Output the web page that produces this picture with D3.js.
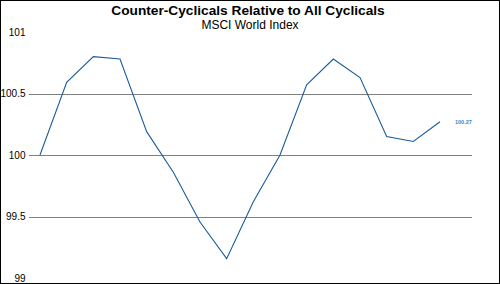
<!DOCTYPE html>
<meta charset="utf-8">
<style>
body { margin: 0; background: #fff; }
svg { display: block; font-family: "Liberation Sans", Arial, sans-serif; }
</style>
<body>
<script src="https://d3js.org/d3.v7.min.js"></script>
<script>

// chart values
var periods = d3.range(1, 17);
var values = [100.00, 100.59, 100.80, 100.78, 100.19, 99.86, 99.455, 99.157,
              99.62, 100.00, 100.57, 100.78, 100.63, 100.15, 100.11, 100.27];
var yTicks = [99, 99.5, 100, 100.5, 101];
var gridTicks = [99.5, 100, 100.5];
var lastLabel = "100.27";

var W = 500, H = 284;

var svg = d3.select("body").append("svg")
    .attr("width", W)
    .attr("height", H);

svg.append("rect")
    .attr("x", 0.5).attr("y", 0.5)
    .attr("width", W - 1).attr("height", H - 1)
    .attr("fill", "#fff")
    .attr("stroke", "#000");

var x = d3.scaleLinear()
    .domain([1, 16])
    .range([40, 440]);

var y = d3.scaleLinear()
    .domain([99, 101])
    .range([278, 32]);

// gridlines
svg.selectAll(".grid")
    .data(gridTicks)
  .enter().append("line")
    .attr("class", "grid")
    .attr("x1", 29).attr("x2", 472)
    .attr("y1", function(d) { return Math.round(y(d)) + 0.5; })
    .attr("y2", function(d) { return Math.round(y(d)) + 0.5; })
    .attr("stroke", "#808080")
    .attr("stroke-width", 1);

// y axis labels
var yAxis = d3.axisLeft(y)
    .tickValues(yTicks)
    .tickSize(0)
    .tickPadding(0)
    .tickFormat(d3.format("~g"));

svg.append("g")
    .attr("transform", "translate(25.5,0)")
    .call(yAxis)
    .call(function(g) { g.select(".domain").remove(); })
    .selectAll("text")
      .attr("font-size", 10)
      .attr("font-family", "Liberation Sans, Arial, sans-serif")
      .attr("fill", "#000");

// the line
var line = d3.line()
    .x(function(d, i) { return x(periods[i]); })
    .y(function(d) { return y(d); });

svg.append("path")
    .datum(values)
    .attr("fill", "none")
    .attr("stroke", "#1a5c9c")
    .attr("stroke-width", 1.1)
    .attr("d", line);

// last value label
svg.append("text")
    .attr("x", x(periods[periods.length - 1]) + 15)
    .attr("y", y(values[values.length - 1]) + 2)
    .attr("font-size", 5.5)
    .attr("font-weight", "bold")
    .attr("fill", "#3a86c8")
    .text(lastLabel);

// titles
svg.append("text")
    .attr("x", 248).attr("y", 15)
    .attr("text-anchor", "middle")
    .attr("font-size", 13.7)
    .attr("font-weight", "bold")
    .text("Counter-Cyclicals Relative to All Cyclicals");

svg.append("text")
    .attr("x", 250).attr("y", 29)
    .attr("text-anchor", "middle")
    .attr("font-size", 12)
    .text("MSCI World Index");

</script>
</body>
